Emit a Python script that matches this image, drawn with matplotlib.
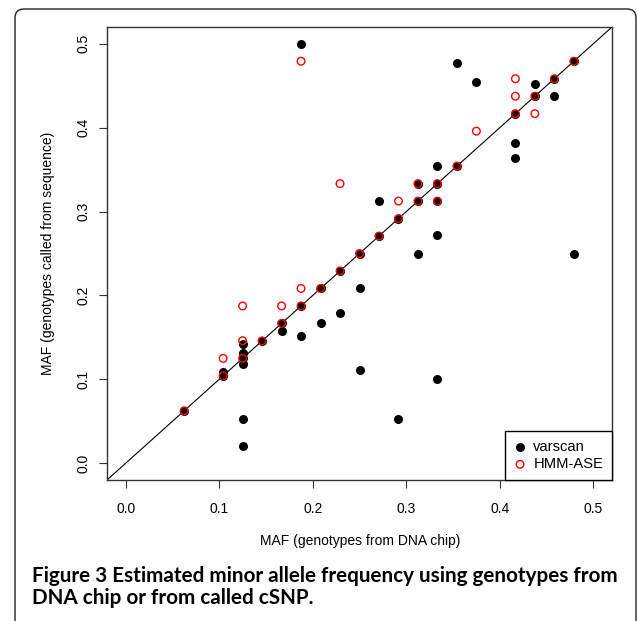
import matplotlib.pyplot as plt
from matplotlib.patches import FancyBboxPatch

# MAF estimates: x = genotypes from DNA chip, y = genotypes called from sequence
varscan_x = [0.1875, 0.3542, 0.375, 0.4375, 0.4583, 0.4792, 0.4375, 0.4583,
             0.4167, 0.4167, 0.4167, 0.3333, 0.3542, 0.3125, 0.3333, 0.2708,
             0.3125, 0.3333, 0.2917, 0.3333, 0.2708, 0.25, 0.3125, 0.4792,
             0.2292, 0.25, 0.2083, 0.1875, 0.2292, 0.2083, 0.1667, 0.1667,
             0.1875, 0.1458, 0.125, 0.125, 0.125, 0.125, 0.1042, 0.1042,
             0.25, 0.0625, 0.125, 0.125, 0.3333, 0.2917]
varscan_y = [0.5, 0.4775, 0.454, 0.452, 0.4583, 0.4792, 0.4375, 0.4375,
             0.4167, 0.382, 0.3635, 0.3542, 0.3542, 0.3333, 0.3333, 0.3125,
             0.3125, 0.3125, 0.2917, 0.272, 0.2708, 0.25, 0.25, 0.25,
             0.2292, 0.2083, 0.2083, 0.1875, 0.1786, 0.1667, 0.1667, 0.158,
             0.152, 0.1458, 0.142, 0.131, 0.125, 0.118, 0.109, 0.1042,
             0.111, 0.0625, 0.0524, 0.0206, 0.1, 0.0524]

hmm_x = [0.1875, 0.2292, 0.4167, 0.4583, 0.4792, 0.4167, 0.4375, 0.4167,
         0.4375, 0.375, 0.3542, 0.3125, 0.3333, 0.2917, 0.3125, 0.3333,
         0.2917, 0.2708, 0.25, 0.2292, 0.2083, 0.1875, 0.1875, 0.1667,
         0.125, 0.1667, 0.1458, 0.125, 0.125, 0.1042, 0.1042, 0.0625]
hmm_y = [0.4792, 0.3333, 0.4583, 0.4583, 0.4792, 0.4375, 0.4375, 0.4167,
         0.4167, 0.3958, 0.3542, 0.3333, 0.3333, 0.3125, 0.3125, 0.3125,
         0.2917, 0.2708, 0.25, 0.2292, 0.2083, 0.2083, 0.1875, 0.1875,
         0.1875, 0.1667, 0.1458, 0.146, 0.125, 0.125, 0.1042, 0.0625]

ticks = [0.0, 0.1, 0.2, 0.3, 0.4, 0.5]

plt.rcParams['font.family'] = ['Liberation Sans', 'DejaVu Sans']

fig = plt.figure(figsize=(6.37, 6.21), dpi=100)
ax = fig.add_axes([107 / 637, 1 - 480 / 621, 505 / 637, 453 / 621])

ax.axline((0, 0), slope=1, color='black', lw=0.8, zorder=1)
ax.scatter(varscan_x, varscan_y, s=30, color='black', zorder=2, label='varscan')
ax.scatter(hmm_x, hmm_y, s=30, facecolors='none', edgecolors='red',
           linewidths=1.0, zorder=3, label='HMM-ASE')

ax.set_xlim(-0.02, 0.52)
ax.set_ylim(-0.02, 0.52)
ax.set_xticks(ticks)
ax.set_yticks(ticks)
ax.set_xticklabels(['%.1f' % t for t in ticks])
ax.set_yticklabels(['%.1f' % t for t in ticks], rotation=90, va='center')
ax.tick_params(length=6, width=0.8, color='#333333', labelsize=10, pad=10)
ax.tick_params(axis='y', pad=6)
for sp in ax.spines.values():
    sp.set_color('#333333')
    sp.set_linewidth(1.0)

leg = ax.legend(loc='lower right', borderaxespad=0, fancybox=False,
                edgecolor='black', framealpha=1, fontsize=10.6,
                handlelength=0.8, handletextpad=0.5, borderpad=0.6,
                labelspacing=0.2)
leg.get_frame().set_linewidth(1.0)

fig.text(360 / 637, 1 - 541 / 621, 'MAF (genotypes from DNA chip)',
         ha='center', va='center', fontsize=10)
fig.text(48 / 637, 1 - 253 / 621, 'MAF (genotypes called from sequence)',
         ha='center', va='center', rotation=90, fontsize=10)

fig.text(32 / 637, 1 - 587 / 621,
         'Figure 3 Estimated minor allele frequency using genotypes from\n'
         'DNA chip or from called cSNP.',
         ha='left', va='center', fontsize=14.9, fontweight='bold',
         family=['Lato', 'DejaVu Sans'], linespacing=1.15)

frame = FancyBboxPatch((15 / 637, -0.1), 621 / 637, 1.1 - 9 / 621,
                       boxstyle='round,pad=0,rounding_size=0.014',
                       transform=fig.transFigure, fill=False,
                       edgecolor='#222222', lw=1.0)
fig.add_artist(frame)

fig.savefig('out.png', dpi=100)
